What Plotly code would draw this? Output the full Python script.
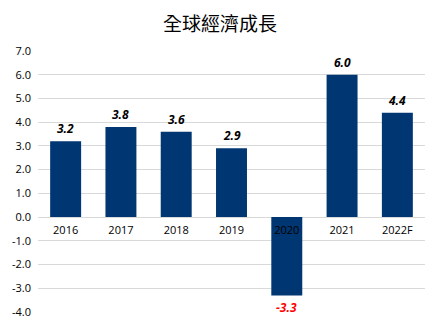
import plotly.graph_objects as go

categories = ["2016", "2017", "2018", "2019", "2020", "2021", "2022F"]
growth = [3.2, 3.8, 3.6, 2.9, -3.3, 6.0, 4.4]
label_text = ["3.2", "3.8", "3.6", "2.9", "-3.3", "6.0", "4.4"]
y_ticks = [-4, -3, -2, -1, 0, 1, 2, 3, 4, 5, 6, 7]
y_tick_text = ["-4.0", "-3.0", "-2.0", "-1.0", "0.0", "1.0", "2.0", "3.0", "4.0", "5.0", "6.0", "7.0"]

fig = go.Figure()
fig.add_trace(go.Bar(x=categories, y=growth, marker=dict(color="#003671", line=dict(width=0)),
                     width=0.56, hoverinfo="skip"))

for i, (v, t) in enumerate(zip(growth, label_text)):
    fig.add_annotation(x=i, y=v, text=t, showarrow=False,
                       yanchor="bottom" if v >= 0 else "top",
                       yshift=2 if v >= 0 else -2,
                       font=dict(family="Open Sans", size=12, weight="bold", style="italic",
                                 color="#000000" if v >= 0 else "#ff0000"))

fig.update_layout(
    width=440, height=327,
    margin=dict(l=38, r=15, t=51, b=15, autoexpand=False),
    paper_bgcolor="white", plot_bgcolor="white",
    showlegend=False,
    title=dict(text="全球經濟成長", x=0.5, xanchor="center", y=0.925, yanchor="middle",
               font=dict(family="Noto Sans CJK TC", size=19, color="#000000")),
    xaxis=dict(type="category", range=[-0.5, 6.5], automargin=False,
               anchor="free", position=4/11, showgrid=False, showline=False, ticks="",
               zeroline=False,
               tickfont=dict(family="Open Sans", size=11, color="#000000"),
               ticklabelstandoff=5, layer="above traces"),
    yaxis=dict(range=[-4, 7], tickvals=y_ticks, ticktext=y_tick_text, automargin=False,
               showgrid=True, gridcolor="#d9d9d9", gridwidth=1,
               zeroline=True, zerolinecolor="#d9d9d9", zerolinewidth=1,
               showline=False, ticks="",
               tickfont=dict(family="Open Sans", size=11, color="#000000"),
               ticklabelstandoff=6),
)

fig.write_html("out.html")
